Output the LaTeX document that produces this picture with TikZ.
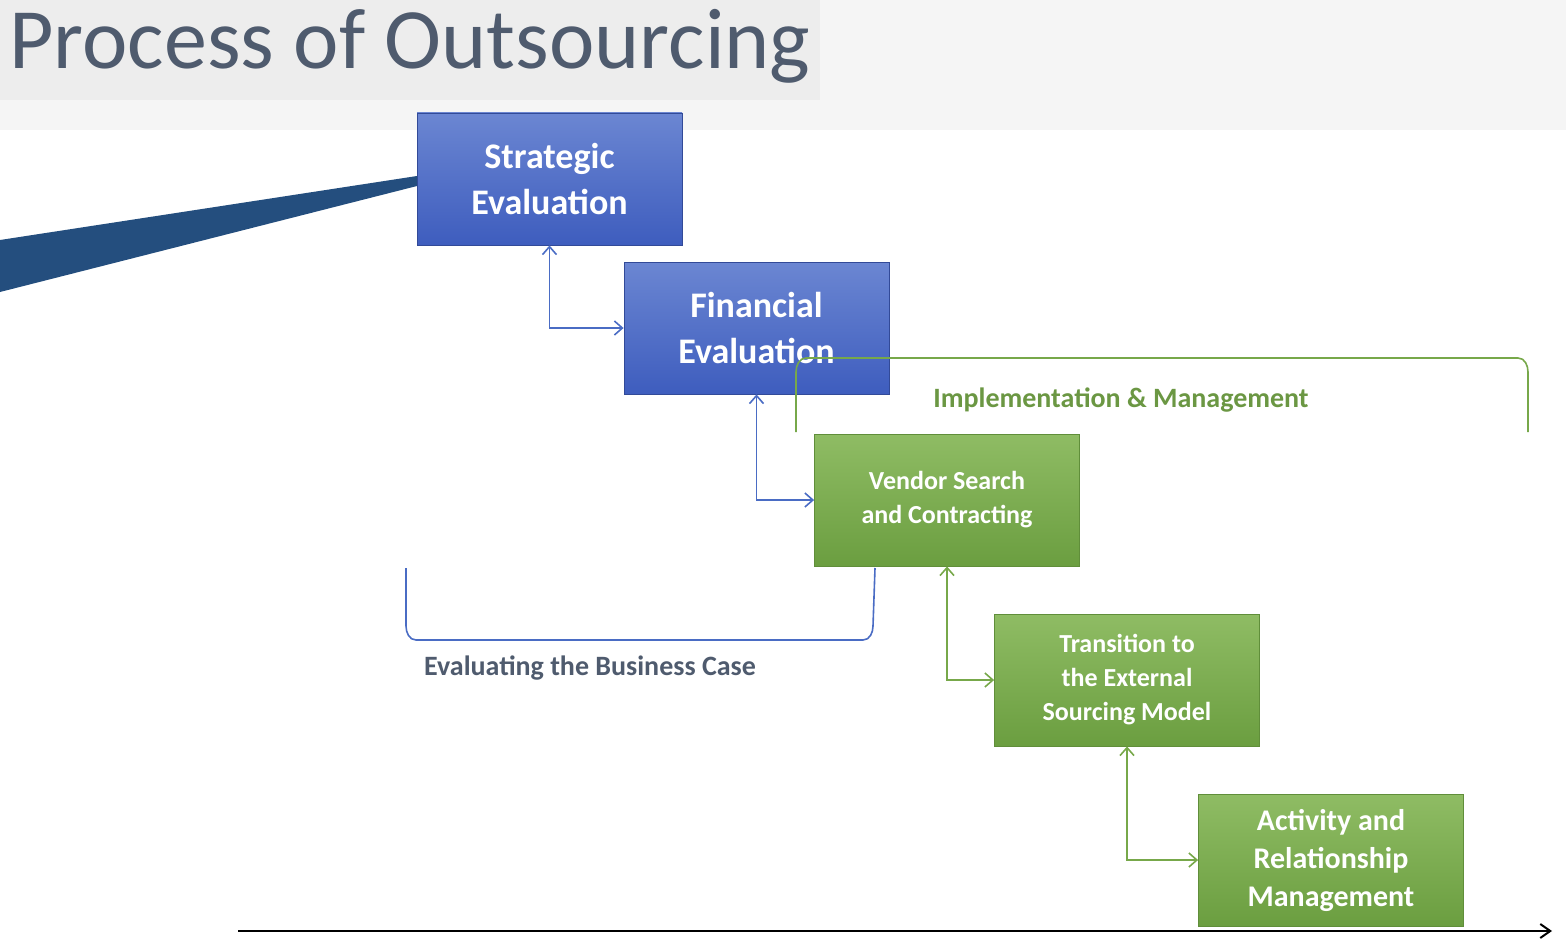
\documentclass[tikz,border=0pt]{standalone}
\usepackage{fontspec}
\setmainfont{Carlito}
\usetikzlibrary{arrows.meta}
\definecolor{bluetop}{HTML}{6B86D2}
\definecolor{bluebot}{HTML}{3E5DBE}
\definecolor{greentop}{HTML}{8FBC64}
\definecolor{greenbot}{HTML}{6B9E40}
\definecolor{conblue}{HTML}{4A6CC4}
\definecolor{congreen}{HTML}{77A84A}
\definecolor{titlecol}{HTML}{4F5B6E}
\definecolor{swoosh}{HTML}{244E7E}
\tikzset{
 bluebox/.style={draw=bluebot!80!black,line width=0.8pt,top color=bluetop,bottom color=bluebot,minimum width=265pt,minimum height=132pt,align=center,text=white,font=\bfseries\fontsize{36}{46}\selectfont,inner sep=0pt},
 greenbox/.style={bluebox,draw=greenbot!90!black,top color=greentop,bottom color=greenbot},
 con/.style={line width=1.6pt,{Straight Barb[length=8pt,width=14pt]}-{Straight Barb[length=8pt,width=14pt]}},
}
\begin{document}
\begin{tikzpicture}[x=1pt,y=-1pt]
\useasboundingbox (0,0) rectangle (1566,939);
\fill[black!4] (0,0) rectangle (1566,130);
\fill[black!7] (0,0) rectangle (820,100);
\fill[swoosh] (0,240) -- (417,176) -- (417,186) -- (0,292) -- cycle;
\node[anchor=west,text=titlecol,font=\fontsize{86}{90}\selectfont] (title) at (6,46) {Process of Outsourcing};
\node[bluebox] (se) at (549.5,179) {Strategic\\Evaluation};
\node[bluebox] (fe) at (756.5,328) {Financial\\Evaluation};
\node[greenbox,font=\bfseries\fontsize{26}{34}\selectfont] (vs) at (947,500) {Vendor Search\\and Contracting};
\node[greenbox,font=\bfseries\fontsize{26}{34}\selectfont] (tr) at (1127,680) {Transition to\\the External\\Sourcing Model};
\node[greenbox,font=\bfseries\fontsize{30}{38}\selectfont] (ar) at (1331,860) {Activity and\\Relationship\\Management};
\draw[con,conblue] (se.south) |- (fe.west);
\draw[con,conblue] (fe.south) |- (vs.west);
\draw[con,congreen] (vs.south) |- (tr.west);
\draw[con,congreen] (tr.south) |- (ar.west);
\draw[congreen,line width=1.6pt] (796,432) -- (796,372) to[out=90,in=180] (806,358) -- (1518,358) to[out=0,in=90] (1528,372) -- (1528,432);
\node[text=congreen!90!black,font=\bfseries\fontsize{28}{32}\selectfont] (im) at (1121,400) {Implementation \& Management};
\draw[conblue,line width=1.6pt] (406,568) -- (406,626) to[out=-90,in=180] (416,640) -- (863,640) to[out=0,in=-90] (873,626) -- (875,568);
\node[text=titlecol,font=\bfseries\fontsize{28}{32}\selectfont] (eb) at (590,668) {Evaluating the Business Case};
\coordinate (a0) at (238,931);
\coordinate (a1) at (1552,931);
\draw[line width=2pt,-{Straight Barb[length=10pt,width=14pt]}] (a0) -- (a1);
\end{tikzpicture}
\end{document}
